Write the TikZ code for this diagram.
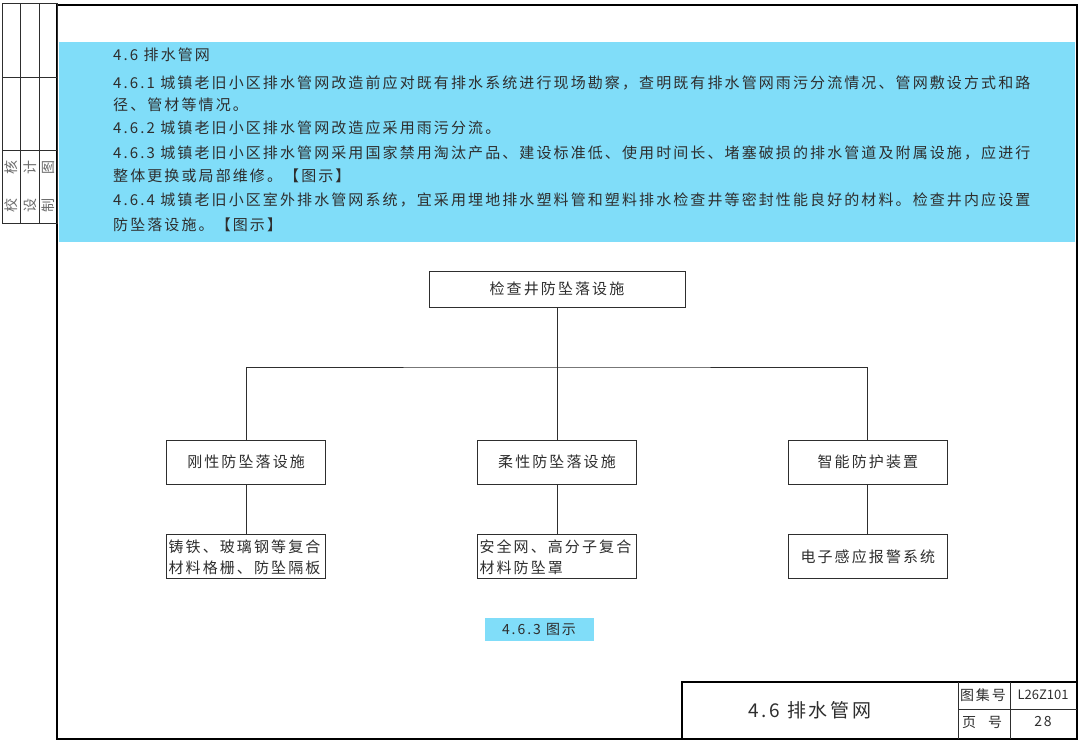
\documentclass[tikz,border=0pt]{standalone}
\usepackage{fontspec}
\setmainfont{Noto Sans CJK SC}
\newfontfamily\cjk[LetterSpace=14]{Noto Sans CJK SC}
\newfontfamily\cjkplain{Noto Sans CJK SC}
\usetikzlibrary{positioning}
\definecolor{bandblue}{HTML}{80DDF9}
\definecolor{inkgrey}{HTML}{2E2E2E}
\definecolor{signgrey}{HTML}{6A6A6A}

\begin{document}
\begin{tikzpicture}[
        x=1pt, y=-1pt, node distance=50pt,
        para/.style={anchor=west, inner sep=0pt, text=inkgrey,
                     font=\cjk\fontsize{15}{18}\selectfont},
        fbox/.style={draw=inkgrey, line width=0.9pt, align=center,
                     minimum width=159pt, minimum height=44pt, inner sep=2pt,
                     text=inkgrey, font=\cjk\fontsize{15}{21}\selectfont},
        link/.style={draw=inkgrey, line width=0.9pt},
        thinrule/.style={draw=inkgrey, line width=0.8pt},
        strip/.style={rotate=90, inner sep=0pt, text=signgrey,
                      font=\cjkplain\fontsize{14}{16}\selectfont},
        tbtext/.style={inner sep=0pt, text=inkgrey,
                       font=\cjk\fontsize{14}{16}\selectfont}
    ]
        \useasboundingbox (0,0) rectangle (1080,744);
        % blue text band
        \fill[bandblue] (59,42) rectangle (1075,242);
        % page frame and signature strip
        \draw[line width=2.6pt] (57,5) rectangle (1077,739);
        \draw[thinrule] (2,3) rectangle (57,223);
        \draw[thinrule] (20,3) -- (20,223) (39,3) -- (39,223);
        \draw[thinrule] (2,77) -- (57,77) (2,150) -- (57,150);
        \node[strip] (sjh) at (11,186) {校\hspace{24pt}核};
        \node[strip] (ssj) at (30,186) {设\hspace{24pt}计};
        \node[strip] (szt) at (48,186) {制\hspace{24pt}图};

        % clauses
        \node[para] (p0) at (113,55) {4.6 排水管网};
        \node[para] (p1) at (113,83) {4.6.1 城镇老旧小区排水管网改造前应对既有排水系统进行现场勘察，查明既有排水管网雨污分流情况、管网敷设方式和路};
        \node[para] (p2) at (113,105) {径、管材等情况。};
        \node[para] (p3) at (113,128) {4.6.2 城镇老旧小区排水管网改造应采用雨污分流。};
        \node[para] (p4) at (113,153) {4.6.3 城镇老旧小区排水管网采用国家禁用淘汰产品、建设标准低、使用时间长、堵塞破损的排水管道及附属设施，应进行};
        \node[para] (p5) at (113,176) {整体更换或局部维修。【图示】};
        \node[para] (p6) at (113,200) {4.6.4 城镇老旧小区室外排水管网系统，宜采用埋地排水塑料管和塑料排水检查井等密封性能良好的材料。检查井内应设置};
        \node[para] (p7) at (113,225) {防坠落设施。【图示】};

        % tree of fall-prevention measures
        \node[fbox, minimum width=256pt, minimum height=36pt] (wells) at (557,289) {检查井防坠落设施};
        \node[fbox] (soft) at (557,462) {柔性防坠落设施};
        \node[fbox, left=151pt of soft] (rigid) {刚性防坠落设施};
        \node[fbox, right=151pt of soft] (smart) {智能防护装置};
        \node[fbox, below=of rigid, text width=155pt, align=left] (rigidm) {铸铁、玻璃钢等复合\\材料格栅、防坠隔板};
        \node[fbox, below=of soft, text width=155pt, align=left] (softm) {安全网、高分子复合\\材料防坠罩};
        \node[fbox, below=of smart] (smartm) {电子感应报警系统};
        \coordinate (bus) at (557,367);
        \draw[link] (wells) -- (soft);
        \draw[link] (rigid.north) |- (bus) -| (smart.north);
        \draw[link] (rigid) -- (rigidm); \draw[link] (soft) -- (softm);
        \draw[link] (smart) -- (smartm);
        \node[fill=bandblue, minimum width=109pt, minimum height=23pt,
              inner sep=0pt, text=inkgrey, font=\cjk\fontsize{14}{16}\selectfont]
              (cap) at (539,629) {4.6.3 图示\hspace{28pt}};

        % title block
        \draw[line width=1.2pt] (682,739) -- (682,682) -- (1077,682);
        \draw[thinrule] (958,682) -- (958,739) (1010,682) -- (1010,739);
        \draw[thinrule] (958,709) -- (1077,709);
        \node[tbtext, font=\cjk\fontsize{19}{22}\selectfont] (ttl) at (810,710) {4.6 排水管网};
        \node[tbtext] (tjh) at (983,695) {图集号};
        \node[tbtext, font=\cjkplain\fontsize{13}{16}\selectfont] (tjv) at (1043,695) {L26Z101};
        \node[tbtext] (tyh) at (982,722) {页\hspace{12pt}号};
        \node[tbtext] (tyv) at (1043,722) {28};
    \end{tikzpicture}
\end{document}
